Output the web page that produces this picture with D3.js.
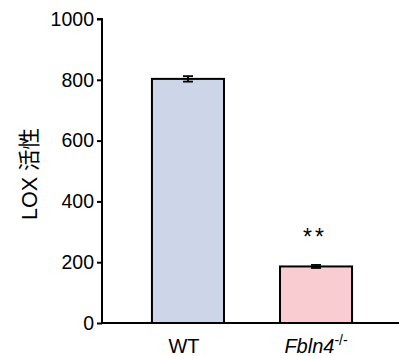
<!DOCTYPE html>
<html><head><meta charset="utf-8">
<script src="https://cdn.jsdelivr.net/npm/d3@7"></script>
<style>body{margin:0;background:#fff}svg{display:block}</style>
</head><body>
<script>
const categories = ["WT", "Fbln4"];
const values = [803, 186];
const errors = [9, 5];
const colors = ["#cdd6e9", "#f8ccd1"];
const yTicks = [0, 200, 400, 600, 800, 1000];
const sigLabels = ["", "**"];

const W = 399, H = 356;
const svg = d3.select("body").append("svg").attr("width", W).attr("height", H);
const y = d3.scaleLinear().domain([0, 1000]).range([323, 19]);
const x = d3.scaleBand().domain(categories).range([102, 402]).paddingInner(0.4375).paddingOuter(0.39);

const font = "Liberation Sans, Arial, sans-serif";
// bars
svg.selectAll("rect.bar").data(categories).enter().append("rect")
  .attr("x", d => x(d)).attr("width", x.bandwidth())
  .attr("y", (d,i) => y(values[i])).attr("height", (d,i) => y(0) - y(values[i]))
  .attr("fill", (d,i) => colors[i]).attr("stroke", "#000").attr("stroke-width", 2);
// error bars
categories.forEach((d,i) => {
  const cx = x(d) + x.bandwidth()/2;
  const g = svg.append("g").attr("stroke", "#000").attr("stroke-width", 1.8);
  g.append("line").attr("x1", cx).attr("x2", cx).attr("y1", y(values[i]+errors[i])).attr("y2", y(values[i]-errors[i]));
  [values[i]+errors[i], values[i]-errors[i]].forEach(v =>
    g.append("line").attr("x1", cx-5).attr("x2", cx+5).attr("y1", y(v)).attr("y2", y(v)));
  if (sigLabels[i]) svg.append("text").attr("x", cx - 1).attr("y", y(values[i]) - 21)
    .attr("text-anchor", "middle").attr("font-family", font)
    .attr("letter-spacing", 3).attr("font-size", 23).text(sigLabels[i]);
});
// y axis
const ya = svg.append("g").attr("transform", "translate(102,0)")
  .call(d3.axisLeft(y).tickValues(yTicks).tickSize(5).tickPadding(3).tickFormat(d3.format("d")));
ya.select(".domain").attr("stroke-width", 2).attr("d", `M-5,${y(1000)}H0V${y(0)}`);
ya.selectAll(".tick line").attr("stroke-width", 2);
ya.selectAll("text").attr("font-family", font).attr("font-size", 19.5).attr("fill", "#000");
// x axis baseline
svg.append("line").attr("x1", 101).attr("x2", 399).attr("y1", y(0)).attr("y2", y(0))
  .attr("stroke", "#000").attr("stroke-width", 2);
// x labels
svg.append("text").attr("x", x("WT") + x.bandwidth()/2 - 4).attr("y", 353).attr("text-anchor", "middle")
  .attr("font-family", font).attr("font-size", 20).text("WT");
const t = svg.append("text").attr("x", x("Fbln4") + x.bandwidth()/2).attr("y", 353).attr("text-anchor", "middle")
  .attr("font-family", font).attr("font-size", 20);
t.append("tspan").attr("font-style", "italic").text("Fbln4");
t.append("tspan").attr("font-size", 14).attr("dy", -8).text("-/-");
// y label
svg.append("text").attr("transform", `translate(37,${(y(0)+y(1000))/2 + 3}) rotate(-90)`)
  .attr("text-anchor", "middle").attr("font-family", "Liberation Sans, 'Noto Sans CJK SC', sans-serif")
  .attr("font-size", 21.5).text("LOX 活性");
</script>
</body></html>
